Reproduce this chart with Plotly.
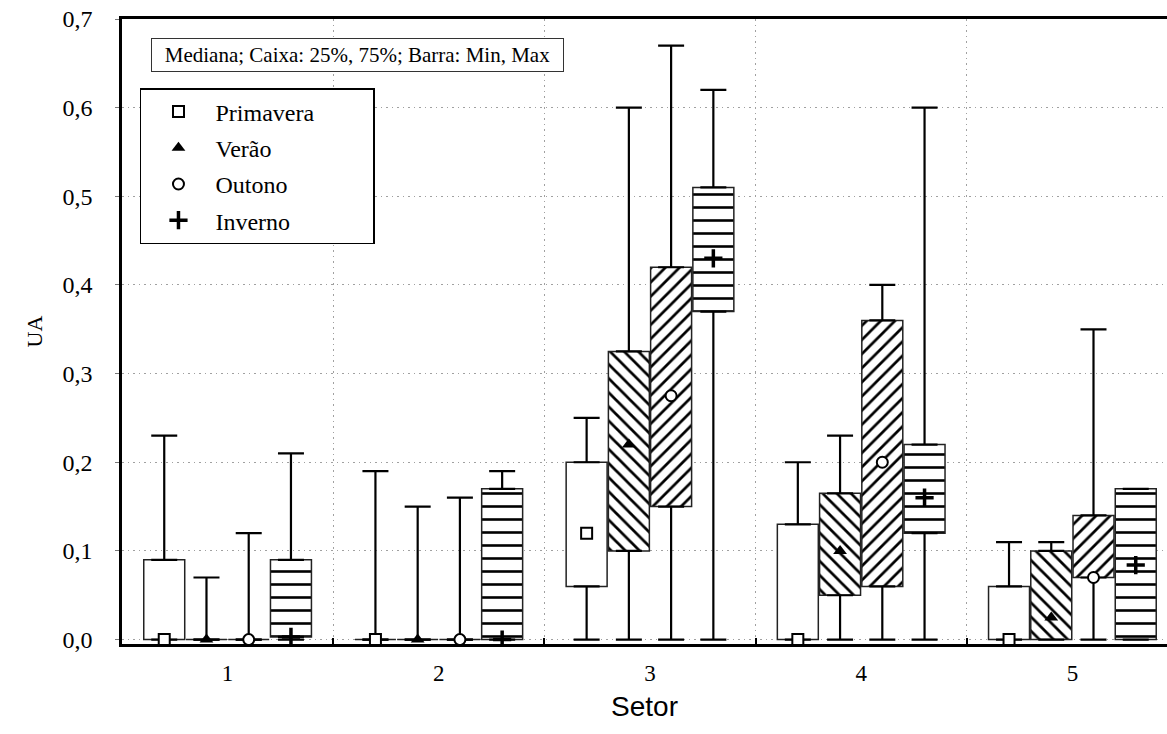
import plotly.graph_objects as go

sectors = [1, 2, 3, 4, 5]
seasons = ["Primavera", "Verão", "Outono", "Inverno"]

prim_min = [0, 0, 0, 0, 0]
prim_q1 = [0, 0, 0.06, 0, 0]
prim_med = [0, 0, 0.12, 0, 0]
prim_q3 = [0.09, 0, 0.20, 0.13, 0.06]
prim_max = [0.23, 0.19, 0.25, 0.20, 0.11]

ver_min = [0, 0, 0, 0, 0]
ver_q1 = [0, 0, 0.10, 0.05, 0]
ver_med = [0, 0, 0.22, 0.10, 0.025]
ver_q3 = [0, 0, 0.325, 0.165, 0.10]
ver_max = [0.07, 0.15, 0.60, 0.23, 0.11]

out_min = [0, 0, 0, 0, 0]
out_q1 = [0, 0, 0.15, 0.06, 0.07]
out_med = [0, 0, 0.275, 0.20, 0.07]
out_q3 = [0, 0, 0.42, 0.36, 0.14]
out_max = [0.12, 0.16, 0.67, 0.40, 0.35]

inv_min = [0, 0, 0, 0, 0]
inv_q1 = [0.003, 0, 0.37, 0.12, 0]
inv_med = [0.003, 0, 0.43, 0.16, 0.084]
inv_q3 = [0.09, 0.17, 0.51, 0.22, 0.17]
inv_max = [0.21, 0.19, 0.62, 0.60, 0.17]

y_ticks = [0, 0.1, 0.2, 0.3, 0.4, 0.5, 0.6, 0.7]
x_ticklabels = ["1", "2", "3", "4", "5"]

data = [
    (prim_min, prim_q1, prim_med, prim_q3, prim_max),
    (ver_min, ver_q1, ver_med, ver_q3, ver_max),
    (out_min, out_q1, out_med, out_q3, out_max),
    (inv_min, inv_q1, inv_med, inv_q3, inv_max),
]

offsets = [-0.3, -0.1, 0.1, 0.3]
patterns = ["", "\\", "/", "-"]
pattern_sizes = [8, 10, 10, 13]
pattern_sol = [0.3, 0.27, 0.27, 0.2]
med_symbols = ["square", "triangle-up", "circle", "cross-thin"]
med_fill = ["white", "black", "white", "black"]
med_size = [11, 12, 11, 13]
med_line = [2, 0, 2, 3.5]

SERIF = "Liberation Serif"
PAD = "\u00a0" * 9  # widens the legend box like the original

fig = go.Figure()

# boxes (25%-75%)
for i, name in enumerate(seasons):
    mn, q1, med, q3, mx = data[i]
    fig.add_trace(go.Bar(
        x=sectors, y=[b - a for a, b in zip(q1, q3)], base=q1,
        name=name, showlegend=False, hoverinfo="skip",
        marker=dict(color="white", line=dict(color="#222", width=1.5),
                    pattern=dict(shape=patterns[i], size=pattern_sizes[i],
                                 solidity=pattern_sol[i], fgcolor="black",
                                 fgopacity=1, bgcolor="white", fillmode="overlay")),
    ))

# whiskers (min, max)
for i, name in enumerate(seasons):
    mn, q1, med, q3, mx = data[i]
    xs = [s + offsets[i] for s in sectors]
    fig.add_trace(go.Scatter(
        x=xs, y=q3, mode="markers", showlegend=False, hoverinfo="skip",
        marker=dict(size=1, color="rgba(0,0,0,0)"),
        error_y=dict(type="data", symmetric=False,
                     array=[b - a for a, b in zip(q3, mx)],
                     arrayminus=[0] * len(sectors),
                     color="black", thickness=2.2, width=13),
    ))
    fig.add_trace(go.Scatter(
        x=xs, y=q1, mode="markers", showlegend=False, hoverinfo="skip",
        marker=dict(size=1, color="rgba(0,0,0,0)"),
        error_y=dict(type="data", symmetric=False,
                     array=[0] * len(sectors),
                     arrayminus=[a - b for a, b in zip(q1, mn)],
                     color="black", thickness=2.2, width=13),
    ))

# medians
for i, name in enumerate(seasons):
    mn, q1, med, q3, mx = data[i]
    xs = [s + offsets[i] for s in sectors]
    fig.add_trace(go.Scatter(
        x=xs, y=med, mode="markers", name=name + PAD, legendgroup=name,
        marker=dict(symbol=med_symbols[i], size=med_size[i], color=med_fill[i],
                    line=dict(color="black", width=med_line[i])),
    ))

GRID = dict(gridcolor="#a0a0a0", griddash="1.5px,4px", gridwidth=1.2)

fig.update_layout(
    width=1167, height=734,
    margin=dict(l=122, r=0, t=19, b=90),
    paper_bgcolor="white", plot_bgcolor="white",
    barmode="group", bargap=0.2, bargroupgap=0.03,
    separators=",.",
    font=dict(family=SERIF, size=22, color="black"),
    showlegend=True,
    legend=dict(x=0.0172, y=0.8896, xanchor="left", yanchor="top",
                bgcolor="white", bordercolor="black", borderwidth=1.5,
                font=dict(family=SERIF, size=24, color="black"),
                itemwidth=64, traceorder="grouped", tracegroupgap=2),
    annotations=[dict(
        text="Mediana; Caixa: 25%, 75%; Barra: Min, Max",
        xref="paper", yref="paper", x=0.2254, y=0.9424,
        xanchor="center", yanchor="middle", showarrow=False,
        font=dict(family=SERIF, size=21, color="black"),
        width=405, height=26, borderpad=3,
        bordercolor="#333", borderwidth=1, bgcolor="white",
    )],
)

fig.update_xaxes(
    range=[0.5, 5.448], tickmode="array", tickvals=sectors, ticktext=x_ticklabels,
    ticks="", showgrid=False, zeroline=False,
    showline=True, linecolor="black", linewidth=2.5, mirror=True,
    tickfont=dict(family=SERIF, size=23), ticklabelstandoff=7,
    minor=dict(tickmode="array", tickvals=[1.5, 2.5, 3.5, 4.5], ticks="inside",
               ticklen=6, tickwidth=1.5, tickcolor="black", showgrid=True, **GRID),
    title=dict(text="Setor", font=dict(family="Liberation Sans", size=28),
               standoff=12),
)
fig.update_yaxes(
    range=[-0.005, 0.7], tickmode="array", tickvals=y_ticks, tickformat=".1f",
    ticks="outside", ticklen=4, tickcolor="#777", tickwidth=1,
    showgrid=True, zeroline=False, showline=True, linecolor="black", linewidth=2.5,
    tickfont=dict(family=SERIF, size=24), ticklabelstandoff=18,
    title=dict(text="UA", font=dict(family=SERIF, size=22), standoff=14),
    **GRID,
)

fig.write_html("out.html")
